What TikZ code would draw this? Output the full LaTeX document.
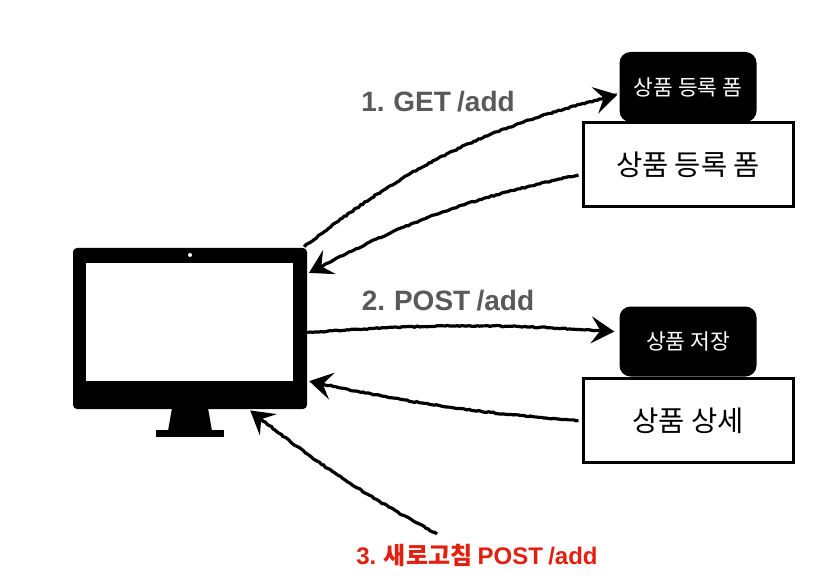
\documentclass[tikz,border=0pt]{standalone}
\usepackage{fontspec}
\setmainfont[WordSpace=0.8]{Liberation Sans}
\newfontfamily\kofont{Noto Sans CJK KR}
\usepackage{xcolor}
\usetikzlibrary{arrows.meta}
\usetikzlibrary{decorations.pathmorphing}
\definecolor{labelgray}{HTML}{595959}
\definecolor{labelred}{HTML}{E3200F}
\newcommand{\sizedfont}[1]{\fontsize{#1}{#1}\selectfont}
\tikzset{
  sketch/.style={line width=3.2pt,black,decorate,shorten >=2pt,
    decoration={random steps,segment length=2.5pt,amplitude=0.6pt,post=lineto,post length=12pt},
    arrows={-{Stealth[length=23pt,width=27pt,inset=9pt]}}},
  pagebox/.style={draw=black,line width=3pt,fill=white,minimum width=210pt,minimum height=84pt,inner sep=0pt,font=\kofont\sizedfont{28.5}},
  viewbox/.style={fill=black,text=white,rounded corners=11pt,minimum width=137pt,minimum height=70pt,inner sep=0pt,font=\kofont\sizedfont{21.5}},
  steplabel/.style={inner sep=0pt,font=\bfseries\sizedfont{28}}
}
\begin{document}
\begin{tikzpicture}[x=1pt,y=-1pt]
\useasboundingbox (0,0) rectangle (832,585);
\fill[white] (0,0) rectangle (832,585);
% monitor
\node[fill=black,rounded corners=4pt,minimum width=234pt,minimum height=161pt,inner sep=0pt] (monitor) at (190,328.5) {};
\node[fill=white,minimum width=207pt,minimum height=118pt,inner sep=0pt] (screen) at (189.5,322) {};
\node[fill=white,circle,minimum size=4pt,inner sep=0pt] (camera) at (190,255) {};
\fill[black] (172,408) -- (208,408) -- (212,431) -- (168,431) -- cycle;
\node[fill=black,minimum width=68pt,minimum height=7pt,inner sep=0pt] (base) at (190,433.5) {};
% first pair
\node[viewbox] (addform) at (688,87) {상품 등록 폼};
\node[pagebox] (formpage) at (688,165) {상품 등록 폼};
% second pair
\node[viewbox] (save) at (688,341.5) {상품 저장};
\node[pagebox] (detail) at (688,420.5) {상품 상세};
% labels
\node[steplabel,text=labelgray] (get) at (438,102) {1. GET /add};
\node[steplabel,text=labelgray] (post) at (448,301) {2. POST /add};
\node[steplabel,text=labelred,font=\bfseries\sizedfont{24}] (refresh) at (477,555) {3. {\kofont\bfseries 새로고침} POST /add};
\coordinate (refreshstart) at (437,534);
% arrows
\path (monitor.north east) ++(-3,-1) coordinate (getstart);
\path (getstart) edge [bend left=12,sketch] (addform.186);
\path (formpage.west) ++(-3,10) coordinate (formstart);
\path (formstart) edge [bend right=8,sketch] (monitor.25);
\path (monitor.-2) edge [bend left=4,sketch,shorten >=5pt] (save.172);
\path (detail.west) ++(-3,0) coordinate (detailstart);
\path (detailstart) edge [bend left=4,sketch] (monitor.-24);
\path (refreshstart) edge [bend left=5,sketch] (monitor.-54);
\end{tikzpicture}
\end{document}
